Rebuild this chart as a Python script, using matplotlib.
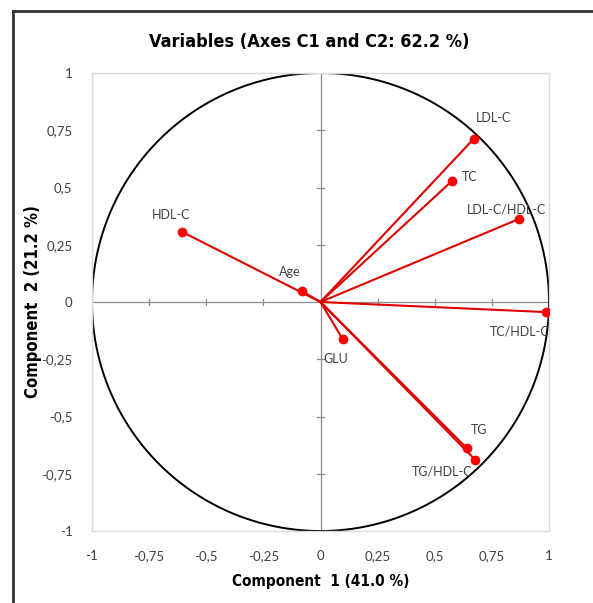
import numpy as np
import matplotlib
matplotlib.use("Agg")
import matplotlib.pyplot as plt
from matplotlib.lines import Line2D

# variable loadings on C1 / C2
names = ["LDL-C", "TC", "LDL-C/HDL-C", "TC/HDL-C", "HDL-C", "Age", "GLU", "TG", "TG/HDL-C"]
c1 = [0.67, 0.575, 0.867, 0.986, -0.605, -0.083, 0.097, 0.64, 0.678]
c2 = [0.712, 0.528, 0.362, -0.044, 0.306, 0.048, -0.162, -0.638, -0.69]

ticks = [-1, -0.75, -0.5, -0.25, 0, 0.25, 0.5, 0.75, 1]
tick_labels = ["-1", "-0,75", "-0,5", "-0,25", "0", "0,25", "0,5", "0,75", "1"]

# label offsets in points (dx, dy)
label_pos = {
    "LDL-C": (2, 15),
    "TC": (7, 3),
    "LDL-C/HDL-C": (-37, 7),
    "TC/HDL-C": (-40, -14),
    "HDL-C": (-22, 12),
    "Age": (-16, 14),
    "GLU": (-14, -14),
    "TG": (3, 13),
    "TG/HDL-C": (-46, -8),
}

tickfont = ["Lato", "DejaVu Sans"]

fig = plt.figure(figsize=(5.93, 6.03), dpi=100)
ax = fig.add_axes([92 / 593, 1 - 531 / 603, 457 / 593, 458 / 603])

# unit circle
t = np.linspace(0, 2 * np.pi, 400)
ax.plot(np.cos(t), np.sin(t), color="black", lw=1.4, zorder=2)

# zero lines with small cross ticks
ax.axhline(0, color="#8c8c8c", lw=0.9, zorder=1)
ax.axvline(0, color="#8c8c8c", lw=0.9, zorder=1)
for v in ticks:
    if v in (0, -1, 1):
        continue
    ax.plot([-0.015, 0.015], [v, v], color="#8c8c8c", lw=0.9, zorder=1)
    ax.plot([v, v], [-0.015, 0.015], color="#8c8c8c", lw=0.9, zorder=1)

for n, x, y in zip(names, c1, c2):
    ax.plot([0, x], [0, y], color="#e00000", lw=1.5, zorder=3)
    ax.plot(x, y, "o", color="#ff0000", ms=6, zorder=4)
    dx, dy = label_pos[n]
    ax.annotate(n, (x, y), xytext=(dx, dy), textcoords="offset points",
                ha="left", va="center", fontsize=9, color="#404040",
                family=tickfont, zorder=5)

ax.set_xlim(-1, 1)
ax.set_ylim(-1, 1)
ax.set_xticks(ticks)
ax.set_xticklabels(tick_labels)
ax.set_yticks(ticks)
ax.set_yticklabels(tick_labels)
ax.tick_params(length=0, pad=14, labelsize=9.5, labelcolor="#404040")
for lab in ax.get_xticklabels() + ax.get_yticklabels():
    lab.set_family(tickfont)
for s in ax.spines.values():
    s.set_color("#d9d9d9")
    s.set_linewidth(1.0)

bold = dict(fontweight="bold", family="DejaVu Sans", fontstretch="condensed")
ax.set_xlabel("Component  1 (41.0 %)", fontsize=11, labelpad=8, **bold)
ax.set_ylabel("Component  2 (21.2 %)", fontsize=12, va="center", **bold)
ax.yaxis.set_label_coords((33 - 92) / 457, 0.5)
fig.text(309 / 593, 1 - 42 / 603, "Variables (Axes C1 and C2: 62.2 %)",
         ha="center", va="center", fontsize=13, **bold)

# outer chart border (top and left only visible)
fig.add_artist(Line2D([13 / 593, 1], [1 - 11 / 603, 1 - 11 / 603],
                      color="#333333", lw=2, transform=fig.transFigure))
fig.add_artist(Line2D([13 / 593, 13 / 593], [0, 1 - 11 / 603],
                      color="#333333", lw=2, transform=fig.transFigure))

fig.savefig("out.png", dpi=100)
